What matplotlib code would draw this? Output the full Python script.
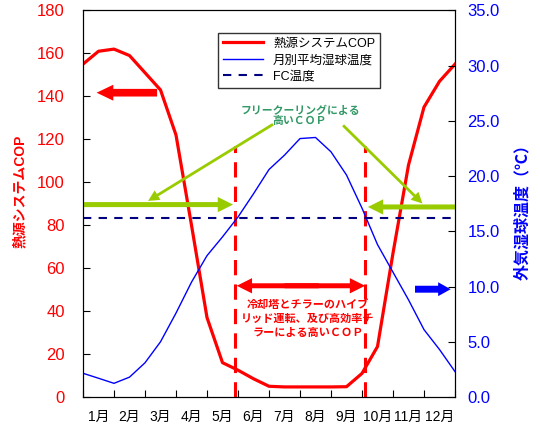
import matplotlib
matplotlib.use('Agg')
import matplotlib.pyplot as plt

plt.rcParams['font.family'] = ['Liberation Sans', 'Noto Sans CJK JP', 'DejaVu Sans']

# x位置（月、0.5刻み）
months_x = [0, 0.5, 1, 1.5, 2, 2.5, 3, 3.5, 4, 4.5, 5, 5.5, 6, 6.5, 7, 7.5, 8, 8.5, 9, 9.5, 10, 10.5, 11, 11.5, 12]
cop = [155, 161, 162, 159, 151, 143, 122, 80, 37, 16, 12.5, 8.5, 5, 4.7, 4.7, 4.7, 4.7, 4.8, 11, 23.5, 67, 108, 135, 147, 155]
wetbulb = [2.15, 1.7, 1.24, 1.8, 3.1, 5.0, 7.6, 10.4, 12.8, 14.5, 16.3, 18.4, 20.6, 21.9, 23.4, 23.5, 22.2, 20.1, 17.1, 13.8, 11.3, 8.8, 6.1, 4.3, 2.3]
fc_temp = 16.2
month_labels = ['1月', '2月', '3月', '4月', '5月', '6月', '7月', '8月', '9月', '10月', '11月', '12月']
cop_ticks = [0, 20, 40, 60, 80, 100, 120, 140, 160, 180]
temp_ticks = [0, 5, 10, 15, 20, 25, 30, 35]
switch_x = [4.9, 9.1]

RED = '#FF0000'
BLUE = '#0000FF'
NAVY = '#000080'
GREEN = '#99CC00'
TGREEN = '#339966'

fig = plt.figure(figsize=(5.4, 4.3), dpi=100)
ax1 = fig.add_axes([0.1537, 0.0767, 0.6889, 0.899])
ax2 = ax1.twinx()

l1, = ax1.plot(months_x, cop, color=RED, lw=2.3, label='熱源システムCOP', zorder=3)
l2, = ax2.plot(months_x, wetbulb, color=BLUE, lw=1.0, label='月別平均湿球温度')
l3 = ax2.axhline(fc_temp, color=NAVY, lw=1.5, ls=(0, (4, 3.5)), label='FC温度')

for sx in switch_x:
    ax1.plot([sx, sx], [0, 117], color=RED, lw=2.2, ls=(0, (5, 3)), zorder=4)

ax1.set_xlim(0, 12)
ax1.set_ylim(0, 180)
ax2.set_ylim(0, 35)

ax1.set_xticks(range(13))
ax1.set_xticklabels([])
ax1.set_xticks([i + 0.5 for i in range(12)], minor=True)
ax1.set_xticklabels(month_labels, minor=True, fontsize=10)
ax1.tick_params(axis='x', which='minor', length=0, pad=9)
ax1.tick_params(axis='x', which='major', direction='in', length=5)

ax1.set_yticks(cop_ticks)
ax1.tick_params(axis='y', direction='in', length=5, labelsize=12, labelcolor=RED, pad=13)
ax2.set_yticks(temp_ticks)
ax2.set_yticklabels(['%.1f' % t for t in temp_ticks])
ax2.tick_params(axis='y', direction='in', length=5, labelsize=12, labelcolor=BLUE, pad=9)

ax1.set_ylabel('熱源システムCOP', color=RED, fontsize=10, fontweight='bold')
ax1.yaxis.set_label_coords(-0.15, 0.532)
ax2.set_ylabel('外気湿球温度（℃）', color=BLUE, fontsize=11.5, fontweight='bold', rotation=90)
ax2.yaxis.set_label_coords(1.16, 0.488)

def arrow(x0, y0, x1, y1, color, tw, hw, hl):
    ax1.annotate('', xy=(x1, y1), xytext=(x0, y0),
                 arrowprops=dict(arrowstyle='simple,head_width=%s,head_length=%s,tail_width=%s' % (hw, hl, tw),
                                 color=color, lw=0, shrinkA=0, shrinkB=0), zorder=5)

# フリークーリング矢印
arrow(0, 89.6, 4.84, 89.6, GREEN, 0.36, 1.1, 1.1)
arrow(12, 88.5, 9.19, 88.5, GREEN, 0.36, 1.1, 1.1)
arrow(6.13, 127, 2.1, 91.3, GREEN, 0.2, 0.8, 0.8)
arrow(8.39, 126.5, 10.95, 90.1, GREEN, 0.2, 0.8, 0.8)
# COP矢印
arrow(2.39, 141.7, 0.44, 141.7, RED, 0.55, 1.15, 1.2)
arrow(10.71, 50.2, 11.86, 50.2, BLUE, 0.5, 1.0, 0.9)
arrow(6.5, 51.8, 9.1, 51.8, RED, 0.36, 1.1, 1.1)
arrow(7.6, 51.8, 4.96, 51.8, RED, 0.36, 1.1, 1.1)

ax1.text(7.0, 131, 'フリークーリングによる\n高いＣＯＰ', color=TGREEN, fontsize=7.8,
         fontweight='bold', ha='center', va='center', linespacing=1.05,
         family=['Noto Sans CJK JP', 'DejaVu Sans'])
ax1.text(7.25, 36.5, '冷却塔とチラーのハイブ\nリッド運転、及び高効率チ\nラーによる高いＣＯＰ', color=RED,
         fontsize=8, fontweight='bold', ha='center', va='center', linespacing=1.1,
         family=['Noto Sans CJK JP', 'DejaVu Sans'])

leg = ax1.legend(handles=[l1, l2, l3], loc='upper left', bbox_to_anchor=(0.363, 0.942),
                 fontsize=9, frameon=True, fancybox=False, edgecolor='black',
                 handlelength=3.2, borderpad=0.4, labelspacing=0.35, borderaxespad=0)
leg.get_frame().set_linewidth(1.0)
leg.set_zorder(10)

fig.savefig('out.png', dpi=100)
